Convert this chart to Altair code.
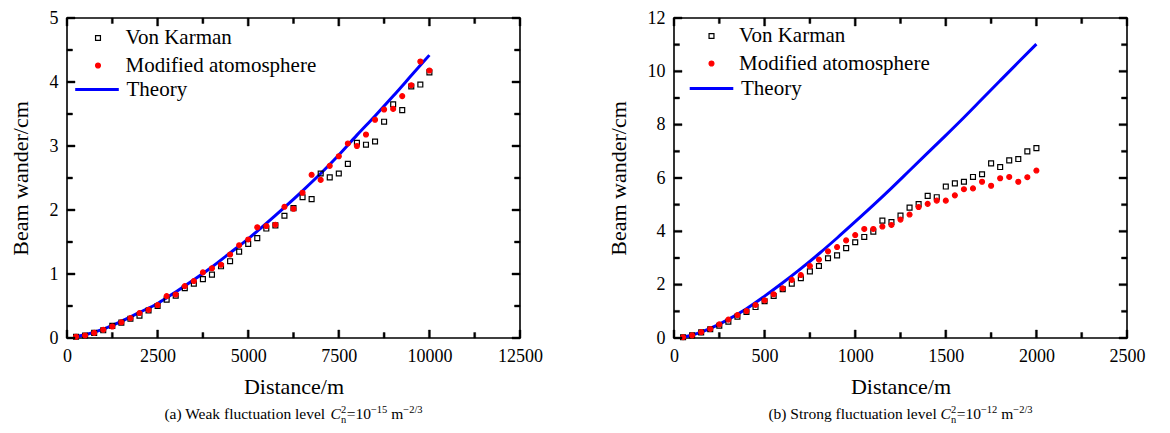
import altair as alt
import pandas as pd

FONT = "Liberation Serif"
PT_SERIES = ["Von Karman", "Modified atomosphere"]

# ---------------- panel (a) ----------------
dist_a = [250, 500, 750, 1000, 1250, 1500, 1750, 2000, 2250, 2500,
          2750, 3000, 3250, 3500, 3750, 4000, 4250, 4500, 4750, 5000,
          5250, 5500, 5750, 6000, 6250, 6500, 6750, 7000, 7250, 7500,
          7750, 8000, 8250, 8500, 8750, 9000, 9250, 9500, 9750, 10000]
vk_a = [0.02, 0.04, 0.08, 0.12, 0.19, 0.24, 0.30, 0.35, 0.43, 0.50,
        0.60, 0.66, 0.78, 0.85, 0.92, 0.99, 1.12, 1.20, 1.35, 1.47,
        1.56, 1.71, 1.76, 1.91, 2.03, 2.20, 2.17, 2.57, 2.51, 2.57,
        2.72, 3.05, 3.02, 3.07, 3.38, 3.65, 3.56, 3.93, 3.96, 4.15]
mod_a = [0.02, 0.04, 0.08, 0.13, 0.18, 0.245, 0.31, 0.39, 0.44, 0.515,
         0.655, 0.68, 0.81, 0.89, 1.025, 1.09, 1.145, 1.305, 1.45, 1.54,
         1.73, 1.75, 1.77, 2.05, 2.02, 2.27, 2.55, 2.47, 2.69, 2.84,
         3.04, 3.00, 3.18, 3.41, 3.57, 3.58, 3.78, 3.95, 4.32, 4.18]
tdist_a = [250, 500, 1000, 1500, 2000, 2500, 3000, 3500, 4000, 4500, 5000,
           5500, 6000, 6500, 7000, 7500, 8000, 8500, 9000, 9500, 10000]
theory_a = [0.02, 0.05, 0.14, 0.26, 0.40, 0.54, 0.72, 0.91, 1.11, 1.33, 1.55,
            1.79, 2.04, 2.30, 2.57, 2.86, 3.17, 3.47, 3.78, 4.10, 4.42]
xmaj_a = [0, 2500, 5000, 7500, 10000, 12500]
xmin_a = [1250, 3750, 6250, 8750, 11250]
ymaj_a = [0, 1, 2, 3, 4, 5]
ymin_a = [0.5, 1.5, 2.5, 3.5, 4.5]
cap_a = ["(a) Weak fluctuation level", "C", "n", "2", "=10", "−15", "m", "−2/3"]

# ---------------- panel (b) ----------------
dist_b = [50, 100, 150, 200, 250, 300, 350, 400, 450, 500,
          550, 600, 650, 700, 750, 800, 850, 900, 950, 1000,
          1050, 1100, 1150, 1200, 1250, 1300, 1350, 1400, 1450, 1500,
          1550, 1600, 1650, 1700, 1750, 1800, 1850, 1900, 1950, 2000]
vk_b = [0.03, 0.10, 0.21, 0.33, 0.46, 0.61, 0.80, 0.975, 1.16, 1.38,
        1.575, 1.83, 2.04, 2.24, 2.50, 2.70, 2.99, 3.10, 3.37, 3.59,
        3.79, 3.99, 4.40, 4.35, 4.59, 4.89, 5.02, 5.33, 5.28, 5.68,
        5.80, 5.86, 6.04, 6.14, 6.55, 6.41, 6.66, 6.71, 7.00, 7.12]
mod_b = [0.03, 0.10, 0.22, 0.34, 0.51, 0.69, 0.86, 1.01, 1.24, 1.41,
         1.64, 1.86, 2.18, 2.36, 2.70, 2.94, 3.25, 3.41, 3.66, 3.86,
         4.09, 4.09, 4.18, 4.24, 4.44, 4.63, 4.91, 5.03, 5.15, 5.15,
         5.35, 5.58, 5.61, 5.86, 5.71, 5.99, 6.04, 5.86, 6.03, 6.28]
tdist_b = [50, 100, 150, 200, 250, 300, 400, 500, 600, 700, 800, 900, 1000,
           1100, 1200, 1300, 1400, 1500, 1600, 1700, 1800, 1900, 2000]
theory_b = [0.03, 0.11, 0.22, 0.36, 0.52, 0.70, 1.10, 1.57, 2.07, 2.60, 3.16, 3.75, 4.36,
            4.98, 5.62, 6.28, 6.94, 7.60, 8.27, 8.96, 9.65, 10.34, 11.02]
xmaj_b = [0, 500, 1000, 1500, 2000, 2500]
xmin_b = [250, 750, 1250, 1750, 2250]
ymaj_b = [0, 2, 4, 6, 8, 10, 12]
ymin_b = [1, 3, 5, 7, 9, 11]
cap_b = ["(b) Strong fluctuation level", "C", "n", "2", "=10", "−12", "m", "−2/3"]

W, H = 453, 320

# Times / Liberation Serif advance widths (1/1000 em), used to lay out the caption pieces
ADV = {"(": 333, ")": 333, "a": 444, "b": 500, " ": 250, "W": 944, "e": 444, "k": 500,
       "f": 333, "l": 278, "u": 500, "c": 444, "t": 278, "i": 278, "o": 500, "n": 500,
       "v": 500, "S": 556, "r": 333, "g": 500, "=": 564, "0": 500, "1": 500, "2": 500,
       "3": 500, "5": 500, "m": 778, "−": 564, "/": 278, "C": 667}


def tw(s, fs):
    return sum(ADV.get(ch, 500) for ch in s) * fs / 1000.0


def caption_layers(parts):
    prefix, cc, sub, sup, eq, e1, unit, e2 = parts
    F, S = 15.5, 10.5
    sp = tw(" ", F)
    col = max(tw(sub, S), tw(sup, S)) + 0.5
    pieces = []  # (text, size, style, advance, dy)
    pieces.append((prefix, F, "normal", tw(prefix, F) + sp, 0))
    pieces.append((cc, F, "italic", tw(cc, F), 0))
    pieces.append((sup, S, "normal", 0, -6.5))
    pieces.append((sub, S, "normal", col, 3.5))
    pieces.append((eq, F, "normal", tw(eq, F), 0))
    pieces.append((e1, S, "normal", tw(e1, S) + sp, -6.5))
    pieces.append((unit, F, "normal", tw(unit, F), 0))
    pieces.append((e2, S, "normal", tw(e2, S), -6.5))
    total = sum(p[3] for p in pieces)
    x = W / 2 - total / 2
    base_y = H + 81
    out = []
    for text, fs, style, adv, dy in pieces:
        out.append(
            alt.Chart(pd.DataFrame({"t": [text]})).mark_text(
                align="left", baseline="alphabetic", font=FONT, fontSize=fs,
                fontStyle=style, color="black"
            ).encode(x=alt.value(round(x, 2)), y=alt.value(base_y + dy), text="t:N")
        )
        x += adv
    return out


def panel(dist, vk, mod, tdist, tval, xmaj, xmin, ymaj, ymin, caption,
          legx, legy, linex, liney):
    x0, x1 = xmaj[0], xmaj[-1]
    y0, y1 = ymaj[0], ymaj[-1]

    def X():
        return alt.X("x:Q", title="Distance/m",
                     scale=alt.Scale(domain=[x0, x1], nice=False, zero=False),
                     axis=alt.Axis(values=xmaj, ticks=False, domain=False, grid=False,
                                   labelFlush=False, format="d", labelPadding=9,
                                   titlePadding=11))

    def Y():
        return alt.Y("y:Q", title="Beam wander/cm",
                     scale=alt.Scale(domain=[y0, y1], nice=False, zero=False),
                     axis=alt.Axis(values=ymaj, ticks=False, domain=False, grid=False,
                                   format="d", labelPadding=9, titlePadding=17))

    leg_common = dict(title=None, orient="none", labelFont=FONT, labelFontSize=21,
                      labelColor="black", labelLimit=0, padding=0, symbolOffset=0)
    pleg = alt.Legend(legendX=legx, legendY=legy, labelOffset=17, symbolSize=24,
                      rowPadding=5.5, symbolStrokeWidth=1.2, **leg_common)
    shape = alt.Shape("series:N", scale=alt.Scale(domain=PT_SERIES, range=["square", "circle"]), legend=pleg)
    stroke = alt.Stroke("series:N", scale=alt.Scale(domain=PT_SERIES, range=["#000000", "#ff0000"]), legend=pleg)
    fill = alt.Fill("series:N", scale=alt.Scale(domain=PT_SERIES, range=["transparent", "#ff0000"]), legend=pleg)

    lleg = alt.Legend(legendX=linex, legendY=liney, labelOffset=6,
                      symbolType="stroke", symbolSize=1900, symbolStrokeWidth=3,
                      symbolStrokeColor="#0000ff", **leg_common)
    lop = alt.Opacity("series:N", scale=alt.Scale(domain=["Theory"], range=[1]), legend=lleg)

    n = len(dist)
    pts = pd.DataFrame({"x": dist + dist, "y": vk + mod,
                        "series": ["Von Karman"] * n + ["Modified atomosphere"] * n})
    th = pd.DataFrame({"x": tdist, "y": tval, "series": ["Theory"] * len(tdist)})

    theory = alt.Chart(th).mark_line(strokeWidth=3, color="#0000ff", interpolate="monotone").encode(
        x=X(), y=Y(), opacity=lop)
    points = alt.Chart(pts).mark_point(opacity=1, size=24, strokeWidth=1.2).encode(
        x=X(), y=Y(), shape=shape, stroke=stroke, fill=fill)

    # inward tick marks on all four sides, drawn as small filled rectangles (data units)
    ky = (y1 - y0) / H
    kx = (x1 - x0) / W
    hw = 1.0  # half thickness in px
    rows = []
    for vals, L in ((xmaj, 8), (xmin, 5.5)):
        for v in vals:
            rows.append({"x": v - hw * kx, "x2": v + hw * kx, "y": y0, "y2": y0 + L * ky})
            rows.append({"x": v - hw * kx, "x2": v + hw * kx, "y": y1, "y2": y1 - L * ky})
    for vals, L in ((ymaj, 8), (ymin, 5.5)):
        for v in vals:
            rows.append({"x": x0, "x2": x0 + L * kx, "y": v - hw * ky, "y2": v + hw * ky})
            rows.append({"x": x1, "x2": x1 - L * kx, "y": v - hw * ky, "y2": v + hw * ky})
    ticks = alt.Chart(pd.DataFrame(rows)).mark_rect(
        fill="#000000", stroke="#000000", strokeWidth=0.4, opacity=1
    ).encode(x=X(), x2="x2:Q", y=Y(), y2="y2:Q")

    layers = [theory, points, ticks] + caption_layers(caption)
    return alt.layer(*layers).properties(width=W, height=H)


left = panel(dist_a, vk_a, mod_a, tdist_a, theory_a, xmaj_a, xmin_a, ymaj_a, ymin_a, cap_a,
             20.5, 9.5, 6.5, 48)
right = panel(dist_b, vk_b, mod_b, tdist_b, theory_b, xmaj_b, xmin_b, ymaj_b, ymin_b, cap_b,
              27, 7.5, 14, 47)

chart = alt.hconcat(left, right, spacing=62).resolve_legend(
    shape="independent", stroke="independent", fill="independent", opacity="independent"
).properties(
    padding={"left": 8, "top": 8, "right": 5, "bottom": 5}
).configure(
    background="white"
).configure_view(
    stroke="#000000", strokeWidth=1.6
).configure_axis(
    labelFont=FONT, labelFontSize=18, labelColor="black",
    titleFont=FONT, titleFontSize=22, titleFontWeight="normal", titleColor="black"
)

chart.save("out.html", embed_options={"renderer": "svg", "actions": False})
